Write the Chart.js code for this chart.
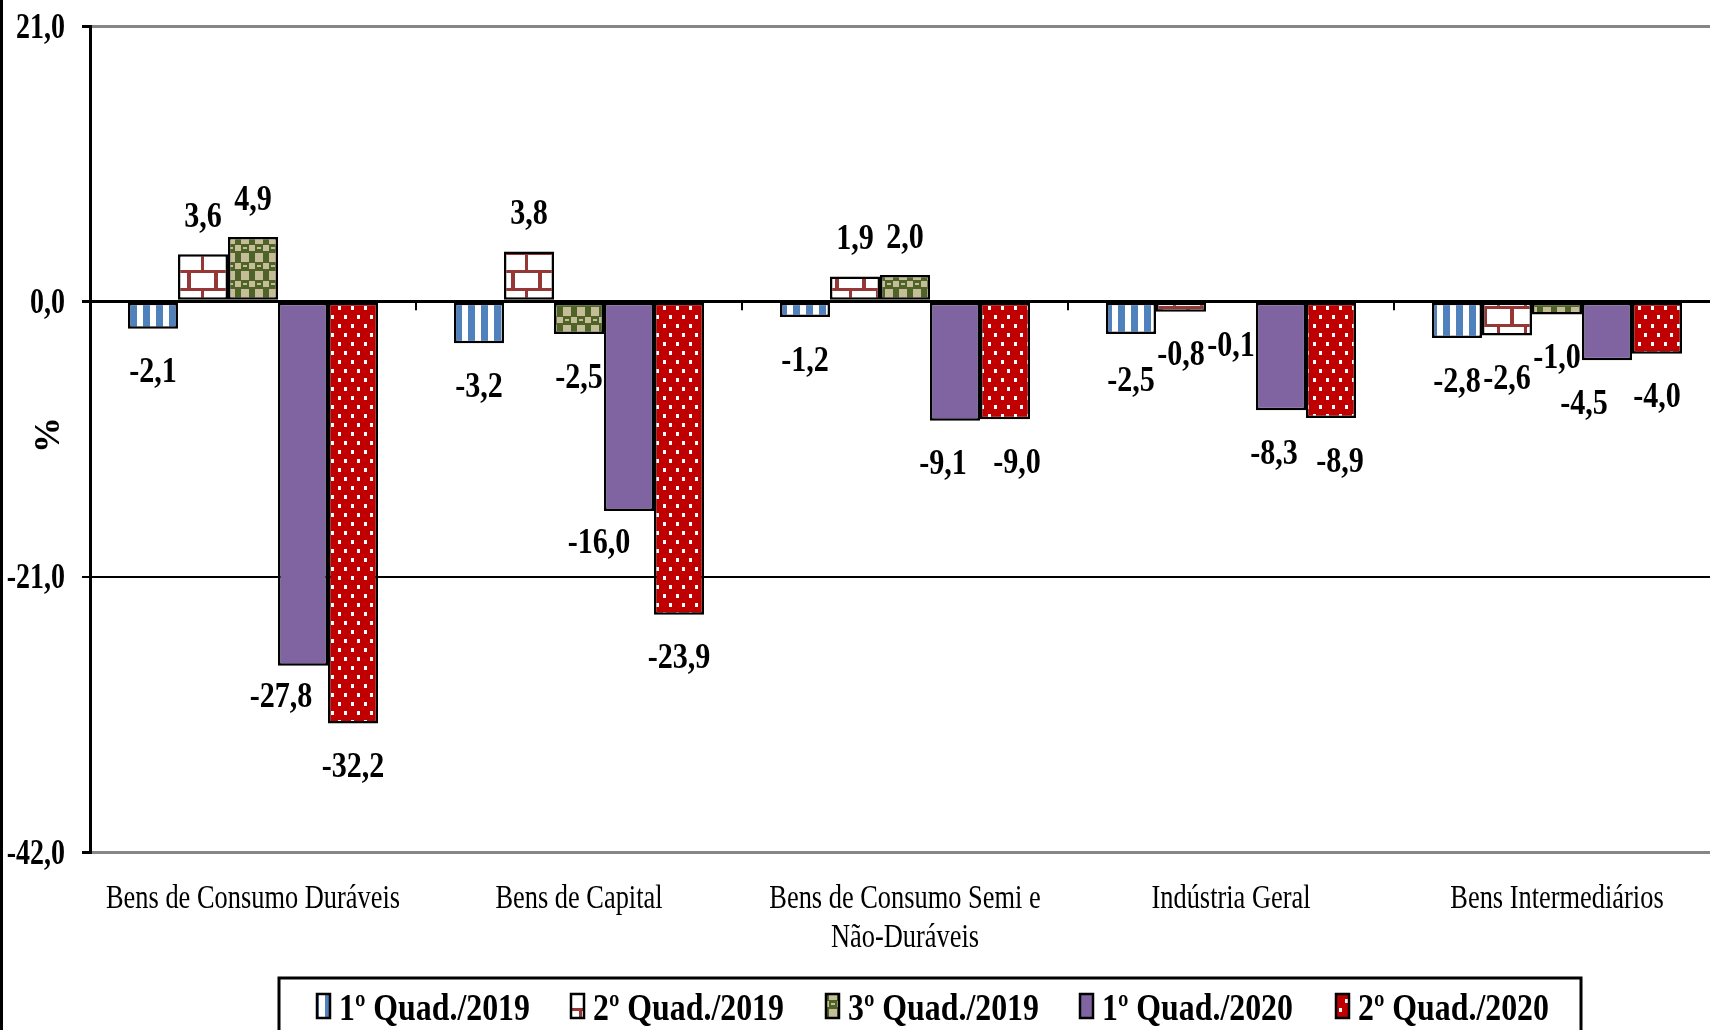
<!DOCTYPE html>
<html>
<head>
<meta charset="utf-8">
<script src="https://cdn.jsdelivr.net/npm/chart.js@4/dist/chart.umd.min.js"></script>
<style>
  html, body { margin: 0; padding: 0; background: #fff; overflow: hidden; }
  canvas { display: block; }
</style>
</head>
<body>
<canvas id="chart" width="1720" height="1030"></canvas>
<script>
// Dados do gráfico
const categories = [
  'Bens de Consumo Duráveis',
  'Bens de Capital',
  ['Bens de Consumo Semi e', 'Não-Duráveis'],
  'Indústria Geral',
  'Bens Intermediários'
]
const seriesNames = ['1º Quad./2019', '2º Quad./2019', '3º Quad./2019', '1º Quad./2020', '2º Quad./2020']
const quad1_2019 = [-2.1, -3.2, -1.2, -2.5, -2.8]
const quad2_2019 = [3.6, 3.8, 1.9, -0.8, -2.6]
const quad3_2019 = [4.9, -2.5, 2.0, -0.1, -1.0]
const quad1_2020 = [-27.8, -16.0, -9.1, -8.3, -4.5]
const quad2_2020 = [-32.2, -23.9, -9.0, -8.9, -4.0]
const yTicks = [21, 0, -21, -42]

// deslocamentos manuais de alguns rótulos (dataset-categoria)
const labelShift = {
  '3-0': [-22, -12], '3-1': [-30, -12], '3-2': [-12, 0], '4-2': [12, 0],
  '3-3': [-7, 0], '4-3': [9, 0], '3-4': [-23, 0], '0-3': [0, 3]
}

const FONT = '"Liberation Serif", "Times New Roman", serif'

function makePattern(w, h, draw) {
  const c = document.createElement('canvas')
  c.width = w
  c.height = h
  const g = c.getContext('2d')
  draw(g)
  return g.createPattern(c, 'repeat')
}

// Listras azuis verticais
const blueStripes = makePattern(13, 4, g => {
  g.fillStyle = '#fff'; g.fillRect(0, 0, 13, 4)
  g.fillStyle = '#4F81BD'; g.fillRect(0, 0, 7, 4)
})
// Tijolos
const bricks = makePattern(27, 36, g => {
  g.fillStyle = '#fff'; g.fillRect(0, 0, 27, 36)
  g.fillStyle = '#953735'
  g.fillRect(0, 0, 27, 3)
  g.fillRect(0, 18, 27, 3)
  g.fillRect(12, 0, 3, 18)
  g.fillRect(0, 18, 2, 18)
  g.fillRect(25, 18, 2, 18)
})
// Xadrez verde
const greenCheck = makePattern(14, 18, g => {
  g.fillStyle = '#4F6228'; g.fillRect(0, 0, 14, 18)
  g.fillStyle = '#C4BD97'
  g.fillRect(3, 1, 8, 9)
  g.fillRect(0, 11, 3, 6)
  g.fillRect(11, 11, 3, 6)
  g.fillRect(5, 13, 4, 2)
})
// Vermelho com pontos brancos
const redDots = makePattern(13, 18, g => {
  g.fillStyle = '#C00000'; g.fillRect(0, 0, 13, 18)
  g.fillStyle = '#fff'
  g.fillRect(0, 0, 3, 4)
  g.fillRect(6, 9, 3, 4)
})

const fills = [blueStripes, bricks, greenCheck, '#8064A2', redDots]
const seriesData = [quad1_2019, quad2_2019, quad3_2019, quad1_2020, quad2_2020]

function fmt(v) {
  return v.toFixed(1).replace('.', ',')
}

// texto comprimido horizontalmente (fonte estreita do original)
function drawText(ctx, s, x, y, font, sx, align) {
  ctx.save()
  ctx.font = font
  ctx.textAlign = 'left'
  ctx.textBaseline = 'alphabetic'
  const w = ctx.measureText(s).width * sx
  const left = align === 'center' ? x - w / 2 : align === 'right' ? x - w : x
  ctx.translate(left, y)
  ctx.scale(sx, 1)
  ctx.fillStyle = '#000'
  ctx.fillText(s, 0, 0)
  ctx.restore()
}

const textPlugin = {
  id: 'textPlugin',
  afterDraw(chart) {
    const ctx = chart.ctx
    const area = chart.chartArea
    const xs = chart.scales.x
    const ys = chart.scales.y

    // moldura à esquerda
    ctx.save()
    ctx.strokeStyle = '#000'
    ctx.lineWidth = 3
    ctx.beginPath(); ctx.moveTo(1.5, 0); ctx.lineTo(1.5, chart.height); ctx.stroke()

    // marcas entre categorias na linha do zero
    const y0 = ys.getPixelForValue(0)
    ctx.lineWidth = 2
    for (let i = 1; i < categories.length; i++) {
      const bx = (xs.getPixelForValue(i - 1) + xs.getPixelForValue(i)) / 2
      ctx.beginPath(); ctx.moveTo(bx, y0); ctx.lineTo(bx, y0 + 9); ctx.stroke()
    }
    ctx.restore()

    // rótulos do eixo Y
    yTicks.forEach(v => {
      drawText(ctx, fmt(v), 65, ys.getPixelForValue(v) + 11.5, 'bold 35px ' + FONT, 0.8, 'right')
    })

    // título "%"
    ctx.save()
    ctx.translate(50, (area.top + area.bottom) / 2 - 4)
    ctx.rotate(-Math.PI / 2)
    ctx.font = 'bold 36px ' + FONT
    ctx.textAlign = 'center'
    ctx.textBaseline = 'middle'
    ctx.fillStyle = '#000'
    ctx.fillText('%', 0, 0)
    ctx.restore()

    // rótulos das categorias
    categories.forEach((c, i) => {
      const lines = Array.isArray(c) ? c : [c]
      lines.forEach((ln, j) => {
        drawText(ctx, ln, xs.getPixelForValue(i), area.bottom + 56 + j * 39, '33px ' + FONT, 0.8, 'center')
      })
    })

    // rótulos de dados
    chart.data.datasets.forEach((ds, di) => {
      const meta = chart.getDatasetMeta(di)
      meta.data.forEach((bar, i) => {
        const v = ds.data[i]
        const shift = labelShift[di + '-' + i] || [0, 0]
        const cy = v >= 0 ? bar.y - 39 : bar.y + 42
        drawText(ctx, fmt(v), bar.x + shift[0], cy + shift[1] + 11.5, 'bold 35px ' + FONT, 0.86, 'center')
      })
    })

    // legenda com moldura
    ctx.save()
    ctx.strokeStyle = '#000'
    ctx.lineWidth = 3
    ctx.strokeRect(279, 978, 1302, 80)
    const itemX = [317, 571, 826, 1080, 1336]
    chart.data.datasets.forEach((ds, di) => {
      const x = itemX[di]
      ctx.fillStyle = ds.backgroundColor
      ctx.fillRect(x, 994, 13, 24)
      ctx.lineWidth = 2.5
      ctx.strokeStyle = '#000'
      ctx.strokeRect(x, 994, 13, 24)
      drawText(ctx, ds.label, x + 22, 1020, 'bold 37px ' + FONT, 0.86, 'left')
    })
    ctx.restore()
  }
}

new Chart(document.getElementById('chart'), {
  type: 'bar',
  data: {
    labels: categories,
    datasets: seriesData.map((d, i) => ({
      label: seriesNames[i],
      data: d,
      backgroundColor: fills[i],
      borderColor: '#000',
      borderWidth: 2.5,
      borderSkipped: false,
      inflateAmount: 0
    }))
  },
  options: {
    responsive: false,
    animation: false,
    devicePixelRatio: 1,
    categoryPercentage: 0.767,
    barPercentage: 1.0,
    layout: { padding: { top: 26, left: 0, right: 0, bottom: 178 } },
    plugins: {
      legend: { display: false },
      tooltip: { enabled: false }
    },
    scales: {
      x: {
        display: false
      },
      y: {
        min: -42,
        max: 21,
        afterFit: scale => { scale.width = 90 },
        afterBuildTicks: scale => { scale.ticks = yTicks.map(v => ({ value: v })) },
        ticks: { display: false },
        border: { display: true, color: '#000', width: 3 },
        grid: {
          color: c => (c.tick && (c.tick.value === 21 || c.tick.value === -42)) ? '#868686' : '#000',
          lineWidth: c => (c.tick && c.tick.value === -21) ? 2 : 3,
          tickColor: '#000',
          tickLength: 8,
          drawTicks: true
        }
      }
    }
  },
  plugins: [textPlugin]
})
</script>
</body>
</html>
